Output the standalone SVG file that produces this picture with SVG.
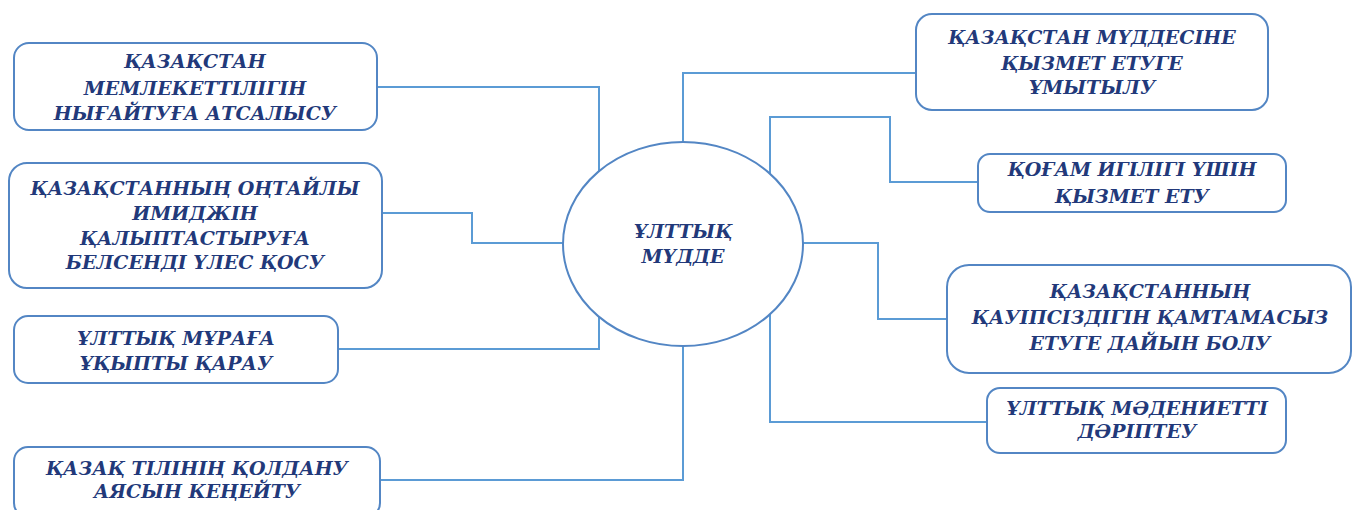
<svg xmlns="http://www.w3.org/2000/svg" width="1353" height="510" viewBox="0 0 1353 510">
<style>
.box{fill:#fff;stroke:#5386c4;stroke-width:2}
.ln{fill:none;stroke:#5b9bd5;stroke-width:2}
.t{font-family:"DejaVu Serif","Liberation Serif",serif;font-weight:bold;font-style:italic;font-size:19px;fill:#22397a;text-anchor:middle}
</style>
<rect width="1353" height="510" fill="#fff"/>
<g id="connectors">
<polyline class="ln" points="377,87 599,87 599,171"/>
<polyline class="ln" points="382,213 472,213 472,243 563,243"/>
<polyline class="ln" points="338,349 599,349 599,317"/>
<polyline class="ln" points="380,480 683,480 683,346"/>
<polyline class="ln" points="683,142 683,73 916,73"/>
<polyline class="ln" points="770,174 770,117 890,117 890,182 978,182"/>
<polyline class="ln" points="803,243 878,243 878,319 947,319"/>
<polyline class="ln" points="770,314 770,422 987,422"/>
</g>
<g id="center">
<ellipse class="box" cx="683" cy="244" rx="120" ry="102"/>
<text class="t" x="683" y="238">ҰЛТТЫҚ</text>
<text class="t" x="683" y="263">МҮДДЕ</text>
</g>
<g id="n1">
<rect class="box" x="14" y="43" width="363" height="87" rx="15"/>
<text class="t" x="195" y="68">ҚАЗАҚСТАН</text>
<text class="t" x="195" y="95">МЕМЛЕКЕТТІЛІГІН</text>
<text class="t" x="195" y="120">НЫҒАЙТУҒА АТСАЛЫСУ</text>
</g>
<g id="n2">
<rect class="box" x="9" y="163" width="373" height="125" rx="18"/>
<text class="t" x="195" y="195">ҚАЗАҚСТАННЫҢ ОҢТАЙЛЫ</text>
<text class="t" x="195" y="220">ИМИДЖІН</text>
<text class="t" x="195" y="245">ҚАЛЫПТАСТЫРУҒА</text>
<text class="t" x="195" y="269">БЕЛСЕНДІ ҮЛЕС ҚОСУ</text>
</g>
<g id="n3">
<rect class="box" x="14" y="316" width="324" height="67" rx="14"/>
<text class="t" x="176" y="345">ҰЛТТЫҚ МҰРАҒА</text>
<text class="t" x="176" y="370">ҰҚЫПТЫ ҚАРАУ</text>
</g>
<g id="n4">
<rect class="box" x="14" y="447" width="366" height="70" rx="14"/>
<text class="t" x="197" y="475">ҚАЗАҚ ТІЛІНІҢ ҚОЛДАНУ</text>
<text class="t" x="197" y="498">АЯСЫН КЕҢЕЙТУ</text>
</g>
<g id="n5">
<rect class="box" x="916" y="14" width="352" height="96" rx="16"/>
<text class="t" x="1092" y="44">ҚАЗАҚСТАН МҮДДЕСІНЕ</text>
<text class="t" x="1092" y="70">ҚЫЗМЕТ ЕТУГЕ</text>
<text class="t" x="1092" y="94">ҰМЫТЫЛУ</text>
</g>
<g id="n6">
<rect class="box" x="978" y="154" width="308" height="58" rx="12"/>
<text class="t" x="1132" y="176">ҚОҒАМ ИГІЛІГІ ҮШІН</text>
<text class="t" x="1132" y="203">ҚЫЗМЕТ ЕТУ</text>
</g>
<g id="n7">
<rect class="box" x="947" y="265" width="404" height="108" rx="22"/>
<text class="t" x="1150" y="298">ҚАЗАҚСТАННЫҢ</text>
<text class="t" x="1150" y="324">ҚАУІПСІЗДІГІН ҚАМТАМАСЫЗ</text>
<text class="t" x="1150" y="350">ЕТУГЕ ДАЙЫН БОЛУ</text>
</g>
<g id="n8">
<rect class="box" x="987" y="388" width="299" height="65" rx="13"/>
<text class="t" x="1137" y="415">ҰЛТТЫҚ МӘДЕНИЕТТІ</text>
<text class="t" x="1137" y="438">ДӘРІПТЕУ</text>
</g>
</svg>
